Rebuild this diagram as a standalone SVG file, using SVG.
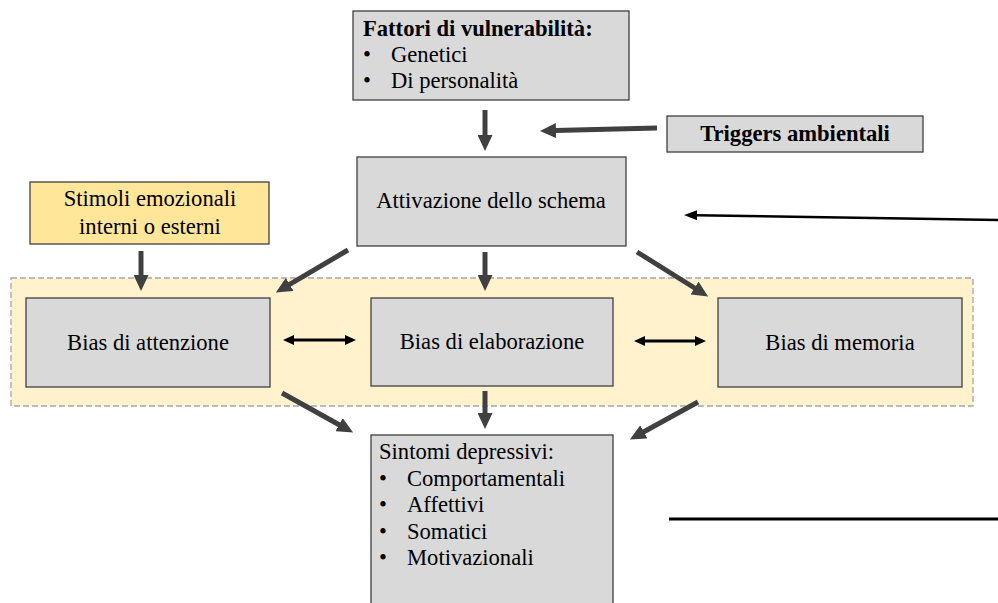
<svg xmlns="http://www.w3.org/2000/svg" width="998" height="603" viewBox="0 0 998 603">
<style>
.box{fill:#D9D9D9;stroke:#404040;stroke-width:1.3}
.t{font-family:"Liberation Serif","Times New Roman",serif;font-size:22.6px;fill:#000}
.b{font-weight:bold}
.c{text-anchor:middle}
.arr{stroke:#404040;stroke-width:5;fill:none;marker-end:url(#ah)}
.dbl{stroke:#000;stroke-width:3;fill:none;marker-start:url(#hs);marker-end:url(#he)}
</style>
<defs>
<marker id="ah" markerUnits="userSpaceOnUse" viewBox="0 0 16 15" markerWidth="16" markerHeight="15" refX="1" refY="7.5" orient="auto"><path d="M0,0 L16,7.5 L0,15 z" fill="#404040"/></marker>
<marker id="he" markerUnits="userSpaceOnUse" viewBox="0 0 11 10" markerWidth="11" markerHeight="10" refX="1" refY="5" orient="auto"><path d="M0,0 L11,5 L0,10 z" fill="#000"/></marker>
<marker id="hs" markerUnits="userSpaceOnUse" viewBox="0 0 11 10" markerWidth="11" markerHeight="10" refX="10" refY="5" orient="auto"><path d="M11,0 L0,5 L11,10 z" fill="#000"/></marker>
<marker id="ht" markerUnits="userSpaceOnUse" viewBox="0 0 13 10" markerWidth="13" markerHeight="10" refX="1" refY="5" orient="auto"><path d="M0,0 L13,5 L0,10 z" fill="#000"/></marker>
</defs>
<rect width="998" height="603" fill="#fff"/>
<g id="band"><rect x="11" y="278" width="962" height="128" fill="#FFF2CC" stroke="#A6A6A6" stroke-width="1.3" stroke-dasharray="6,3"/></g>
<g id="vulnerabilita">
<rect class="box" x="353" y="11" width="276" height="89"/>
<text class="t b" x="363" y="36">Fattori di vulnerabilità:</text>
<text class="t" x="363" y="62">•</text><text class="t" x="391" y="62">Genetici</text>
<text class="t" x="363" y="88">•</text><text class="t" x="391" y="88">Di personalità</text>
</g>
<g id="triggers">
<rect class="box" x="667" y="116" width="256" height="36"/>
<text class="t b c" x="795" y="141">Triggers ambientali</text>
</g>
<g id="attivazione">
<rect class="box" x="357" y="157" width="269" height="89"/>
<text class="t c" x="491" y="208">Attivazione dello schema</text>
</g>
<g id="stimoli">
<rect x="30" y="182" width="239" height="62" fill="#FFE699" stroke="#404040" stroke-width="1.3"/>
<text class="t c" x="150" y="206">Stimoli emozionali</text>
<text class="t c" x="150" y="234">interni o esterni</text>
</g>
<g id="attenzione">
<rect class="box" x="26" y="298" width="244" height="89"/>
<text class="t c" x="148" y="350">Bias di attenzione</text>
</g>
<g id="elaborazione">
<rect class="box" x="371" y="298" width="242" height="88"/>
<text class="t c" x="492" y="349">Bias di elaborazione</text>
</g>
<g id="memoria">
<rect class="box" x="718" y="298" width="244" height="89"/>
<text class="t c" x="840" y="350">Bias di memoria</text>
</g>
<g id="sintomi">
<rect class="box" x="371" y="435" width="242" height="175"/>
<text class="t" x="379" y="459">Sintomi depressivi:</text>
<text class="t" x="379" y="486">•</text><text class="t" x="407" y="486">Comportamentali</text>
<text class="t" x="379" y="512">•</text><text class="t" x="407" y="512">Affettivi</text>
<text class="t" x="379" y="539">•</text><text class="t" x="407" y="539">Somatici</text>
<text class="t" x="379" y="565">•</text><text class="t" x="407" y="565">Motivazionali</text>
</g>
<g id="connectors">
<line class="arr" x1="485" y1="110" x2="485" y2="136"/>
<line class="arr" x1="657" y1="128" x2="555" y2="130.6"/>
<line class="arr" x1="141" y1="251" x2="141" y2="276"/>
<line class="arr" x1="348" y1="250" x2="288.8" y2="284.9"/>
<line class="arr" x1="485" y1="252" x2="485" y2="276"/>
<line class="arr" x1="637" y1="252" x2="695.4" y2="288.5"/>
<line class="arr" x1="282" y1="393" x2="340" y2="425.2"/>
<line class="arr" x1="485" y1="391" x2="485" y2="414"/>
<line class="arr" x1="698" y1="402" x2="643" y2="432.3"/>
<line class="dbl" x1="293" y1="340" x2="346" y2="340"/>
<line class="dbl" x1="644" y1="341" x2="696" y2="341"/>
<line x1="998" y1="220" x2="696" y2="215.2" stroke="#000" stroke-width="2.5" marker-end="url(#ht)"/>
<line x1="669" y1="519" x2="998" y2="519" stroke="#000" stroke-width="3"/>
</g>
</svg>
